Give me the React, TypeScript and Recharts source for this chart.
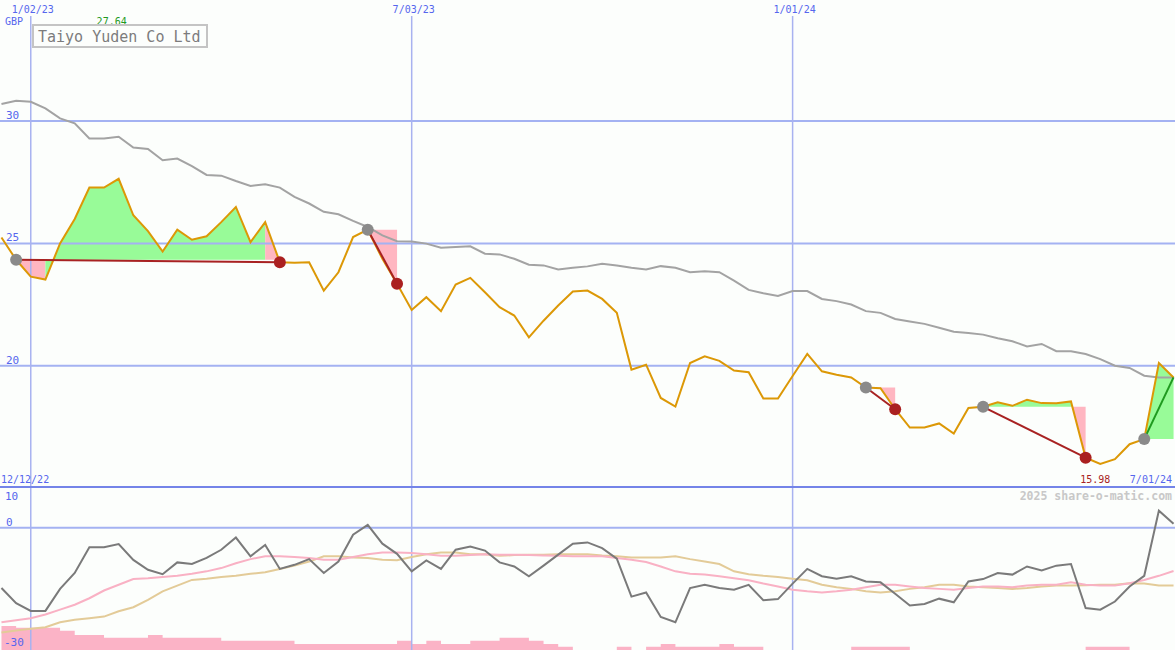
import React from 'react';
import { ComposedChart, Line, Area, XAxis, YAxis, ReferenceLine, ReferenceDot } from 'recharts';

const title = 'Taiyo Yuden Co Ltd';
const currency = 'GBP';
const credit = '2025 share-o-matic.com';
const startDate = '12/12/22';
const endDate = '7/01/24';
const dateTickIdx = [2, 28, 54];
const dateTickLabels = ['1/02/23', '7/03/23', '1/01/24'];
const priceTicks = [30, 25, 20];
const oscTicks = [10, 0, -30];

const price = [
  25.24, 24.33, 23.64, 23.52, 25.0, 26.0, 27.28, 27.28, 27.64, 26.15,
  25.5, 24.67, 25.56, 25.15, 25.29, 25.87, 26.49, 25.05, 25.87, 24.23,
  24.21, 24.23, 23.07, 23.82, 25.26, 25.56, 24.37, 23.35, 22.28, 22.8,
  22.23, 23.32, 23.59, 23.0, 22.39, 22.05, 21.16, 21.84, 22.46, 23.03,
  23.07, 22.73, 22.16, 19.84, 20.04, 18.68, 18.33, 20.11, 20.38, 20.2,
  19.8, 19.73, 18.66, 18.66, 19.58, 20.48, 19.77, 19.63, 19.52, 19.11,
  19.08, 18.22, 17.47, 17.47, 17.64, 17.23, 18.27, 18.32, 18.5, 18.36,
  18.61, 18.47, 18.46, 18.54, 16.24, 15.98, 16.18, 16.79, 17.0, 20.11,
  19.52,
];

const ma = [
  30.7, 30.83, 30.79, 30.52, 30.11, 29.91, 29.29, 29.29, 29.36, 28.92,
  28.86, 28.4, 28.47, 28.16, 27.8, 27.77, 27.55, 27.35, 27.42, 27.28,
  26.9, 26.63, 26.29, 26.19, 25.92, 25.67, 25.33, 25.09, 25.08, 24.99,
  24.82, 24.85, 24.88, 24.58, 24.55, 24.37, 24.13, 24.1, 23.93, 24.0,
  24.06, 24.17, 24.1, 24.0, 23.93, 24.07, 24.0, 23.82, 23.86, 23.82,
  23.48, 23.1, 22.96, 22.85, 23.05, 23.05, 22.73, 22.64, 22.5, 22.23,
  22.16, 21.91, 21.81, 21.71, 21.55, 21.39, 21.34, 21.27, 21.12, 21.0,
  20.79, 20.89, 20.59, 20.59, 20.48, 20.27, 20.0, 19.91, 19.59, 19.52,
  19.52,
];

const osc = [
  -14.8, -18.5, -20.4, -20.4, -15.0, -11.1, -4.8, -4.8, -4.0, -7.9,
  -10.3, -11.4, -8.5, -8.9, -7.4, -5.4, -2.4, -7.0, -4.2, -10.1,
  -9.1, -7.7, -11.1, -8.3, -1.7, 0.7, -3.9, -6.4, -10.7, -8.0,
  -10.1, -5.4, -4.6, -5.6, -8.5, -9.5, -11.9, -9.3, -6.6, -3.9,
  -3.6, -5.0, -7.6, -16.9, -15.9, -21.9, -23.2, -14.8, -14.0, -14.8,
  -15.2, -14.0, -17.8, -17.5, -13.7, -10.1, -11.9, -12.5, -11.9, -13.2,
  -13.4, -16.2, -19.1, -18.7, -17.4, -18.3, -13.2, -12.6, -11.1, -11.5,
  -9.5, -10.5, -9.3, -8.9, -19.7, -20.1, -18.1, -14.4, -11.8, 4.2,
  1.0,
];

const sig = [
  -23.2, -22.7, -22.2, -21.3, -20.1, -18.9, -17.3, -15.4, -14.0, -12.6,
  -12.4, -12.1, -11.8, -11.3, -10.7, -9.9, -8.7, -7.7, -7.0, -7.0,
  -7.2, -7.4, -7.85, -7.85, -7.2, -6.5, -6.1, -6.1, -6.2, -6.5,
  -6.9, -6.9, -6.7, -6.5, -6.6, -6.6, -6.7, -6.8, -6.9, -7.0,
  -7.0, -7.0, -7.4, -7.85, -8.4, -9.5, -10.7, -11.3, -11.5, -11.9,
  -12.4, -12.9, -13.7, -14.4, -15.2, -15.6, -15.9, -15.6, -15.2, -14.6,
  -14.0, -14.0, -14.4, -14.8, -15.0, -15.2, -14.8, -14.4, -14.4, -14.6,
  -14.2, -14.0, -14.0, -13.4, -14.0, -14.2, -14.2, -13.6, -12.8, -11.8,
  -10.6,
];

const slow = [
  -25.7, -25.2, -24.8, -24.4, -23.2, -22.6, -22.2, -21.8, -20.5, -19.5,
  -17.7, -15.6, -14.2, -12.8, -12.5, -12.1, -11.8, -11.3, -10.9, -10.1,
  -9.3, -8.3, -7.0, -7.0, -7.3, -7.4, -7.85, -8.0, -7.2, -6.5,
  -6.1, -6.1, -6.5, -6.5, -6.9, -6.7, -6.6, -6.6, -6.5, -6.5,
  -6.5, -6.8, -7.0, -7.3, -7.3, -7.3, -7.0, -7.7, -8.3, -8.9,
  -10.7, -11.4, -11.8, -12.1, -12.5, -12.9, -14.0, -14.6, -15.0, -15.6,
  -15.9, -15.6, -15.0, -14.6, -14.0, -14.0, -14.4, -14.6, -14.8, -15.0,
  -14.8, -14.4, -14.2, -14.2, -14.1, -14.0, -14.0, -13.6, -13.7, -14.2,
  -14.2,
];

const vol = [
  7.9, 7.3, 7.3, 7.3, 6.3, 4.9, 4.9, 4.0, 4.0, 4.0,
  4.9, 4.0, 4.0, 4.0, 4.0, 3.05, 3.05, 3.05, 3.05, 3.05,
  2.0, 2.0, 2.0, 2.0, 2.0, 2.0, 2.0, 3.05, 2.0, 3.05,
  2.0, 2.0, 3.05, 3.05, 4.0, 4.0, 3.05, 2.0, 1.1, 0,
  0, 0, 1.1, 0, 1.1, 2.0, 1.1, 1.1, 1.1, 2.0,
  1.1, 1.1, 0, 0, 0, 0, 0, 0, 1.1, 1.1,
  1.1, 1.1, 0, 0, 0, 0, 0, 0, 0, 0,
  0, 0, 0, 0, 1.1, 1.1, 1.1, 0, 0, 0,
  0,
];

const tradeEntry = [1, 25, 59, 67, 78];
const tradeExit = [19, 27, 61, 74, 80];
const tradeOpen = [false, false, false, false, true];

const BG = '#fcfefc';
const GRID = '#a4b2f2';
const GRID_V = '#a8b2f0';
const SEP = '#7484e8';
const TXT = '#5566ee';
const MONO = '"DejaVu Sans Mono", "Liberation Mono", monospace';
const UP_FILL = '#98fb98';
const DOWN_FILL = '#ffb6c1';
const LOSS = '#a82222';
const WIN = '#1f9a1f';

const rows: any[] = price.map((p, i) => ({
  i, price: p, ma: ma[i], osc: osc[i], sig: sig[i], slow: slow[i], vol: vol[i],
}));

const fillRuns: { key: string; color: string }[] = [];
const pushRun = (s: number, e: number, up: boolean, ep: number) => {
  const key = 'f' + fillRuns.length;
  for (let k = s; k <= e; k++) rows[k][key] = [ep, price[k]];
  fillRuns.push({ key, color: up ? UP_FILL : DOWN_FILL });
};
tradeEntry.forEach((e, t) => {
  const x = tradeExit[t];
  const ep = price[e];
  let runStart = e;
  let runUp: boolean | null = null;
  for (let j = e; j < x; j++) {
    const up = price[j + 1] >= ep;
    if (runUp === null) { runUp = up; runStart = j; }
    else if (up !== runUp) { pushRun(runStart, j, runUp, ep); runUp = up; runStart = j; }
  }
  if (runUp !== null) pushRun(runStart, x, runUp, ep);
});

const tradeKeys = tradeEntry.map((e, t) => {
  const key = 't' + t;
  rows[e][key] = price[e];
  rows[tradeExit[t]][key] = price[tradeExit[t]];
  return key;
});

let maxIdx = 0;
let minIdx = 0;
price.forEach((p, i) => { if (p > price[maxIdx]) maxIdx = i; if (p < price[minIdx]) minIdx = i; });

const makeDot = (t: number) => (props: any) => {
  const { cx, cy, payload, index } = props;
  const k = `d${t}-${index}`;
  if (cx == null || cy == null || props.value == null) return <g key={k} />;
  const isEntry = payload.i === tradeEntry[t];
  if (!isEntry && tradeOpen[t]) return <g key={k} />;
  return <circle key={k} cx={cx} cy={cy} r={6} fill={isEntry ? '#8a8a8a' : '#aa2020'} stroke="none" />;
};

const LineLabel = (props: any) => {
  const { viewBox, txt, dx = 0, dy = 0, anchor = 'start', size = 11, color = TXT, yAbs } = props;
  if (!viewBox) return null;
  return (
    <text x={viewBox.x + dx} y={yAbs != null ? yAbs : viewBox.y + dy} textAnchor={anchor}
      fontSize={size} fill={color} fontFamily={MONO}>{txt}</text>
  );
};

const X_DOMAIN: [number, number] = [-0.1, 80.1];
const P_DOMAIN: [number, number] = [15, 34.95];
const V_TOP = 34.3;

export default function App() {
  return (
    <div style={{ position: 'absolute', left: 0, top: 0, width: 1175, height: 650, background: BG, overflow: 'hidden' }}>
      <div style={{ position: 'absolute', left: 0, top: 0 }}>
        <ComposedChart width={1175} height={488} data={rows} margin={{ top: 0, right: 0, bottom: 0, left: 0 }}>
          <XAxis hide type="number" dataKey="i" domain={X_DOMAIN} allowDataOverflow />
          <YAxis hide domain={P_DOMAIN} allowDataOverflow />
          {priceTicks.map((v) => (
            <ReferenceLine key={'py' + v} y={v} stroke={GRID} strokeWidth={2}
              label={<LineLabel txt={String(v)} dx={6} dy={-2} />} />
          ))}
          {dateTickIdx.map((d, k) => (
            <ReferenceLine key={'px' + d} stroke={GRID_V} strokeWidth={1.5}
              segment={[{ x: d, y: V_TOP }, { x: d, y: P_DOMAIN[0] }]}
              label={<LineLabel txt={dateTickLabels[k]} dx={2} yAbs={13} anchor="middle" size={10} />} />
          ))}
          {fillRuns.map((r) => (
            <Area key={r.key} dataKey={r.key} type="linear" fill={r.color} fillOpacity={1}
              stroke="none" connectNulls={false} isAnimationActive={false} dot={false} activeDot={false} />
          ))}
          <Line dataKey="ma" type="linear" stroke="#a3a3a3" strokeWidth={2} dot={false} activeDot={false} isAnimationActive={false} />
          <Line dataKey="price" type="linear" stroke="#dc9806" strokeWidth={2} dot={false} activeDot={false} isAnimationActive={false} />
          {tradeKeys.map((key, t) => (
            <Line key={key} dataKey={key} type="linear" connectNulls
              stroke={price[tradeExit[t]] > price[tradeEntry[t]] ? WIN : LOSS} strokeWidth={2}
              dot={makeDot(t)} activeDot={false} isAnimationActive={false} />
          ))}
          <ReferenceDot x={maxIdx} y={price[maxIdx]} r={0} fill="none" stroke="none"
            label={<LineLabel txt={price[maxIdx].toFixed(2)} dx={-7} yAbs={25} anchor="middle" size={10} color="#1f9a1f" />} />
          <ReferenceDot x={minIdx} y={price[minIdx]} r={0} fill="none" stroke="none"
            label={<LineLabel txt={price[minIdx].toFixed(2)} dx={-5} yAbs={483} anchor="middle" size={10} color="#a82222" />} />
        </ComposedChart>
      </div>
      <div style={{ position: 'absolute', left: 0, top: 485 }}>
        <ComposedChart width={1175} height={165} data={rows} margin={{ top: 2, right: 0, bottom: 0, left: 0 }}>
          <XAxis hide type="number" dataKey="i" domain={X_DOMAIN} allowDataOverflow />
          <YAxis hide yAxisId="o" domain={[oscTicks[2], oscTicks[0]]} allowDataOverflow />
          <YAxis hide yAxisId="v" domain={[0, 53.4]} allowDataOverflow />
          {dateTickIdx.map((d) => (
            <ReferenceLine key={'ox' + d} yAxisId="o" x={d} stroke={GRID_V} strokeWidth={1.5} />
          ))}
          <ReferenceLine yAxisId="o" y={oscTicks[1]} stroke={GRID} strokeWidth={2}
            label={<LineLabel txt={String(oscTicks[1])} dx={6} dy={-2} />} />
          <Area yAxisId="v" dataKey="vol" type="stepAfter" fill="#fbb3c6" fillOpacity={1} stroke="none"
            isAnimationActive={false} dot={false} activeDot={false} />
          <Line yAxisId="o" dataKey="slow" type="linear" stroke="#e3cb98" strokeWidth={2} dot={false} activeDot={false} isAnimationActive={false} />
          <Line yAxisId="o" dataKey="sig" type="linear" stroke="#f9b1c4" strokeWidth={2} dot={false} activeDot={false} isAnimationActive={false} />
          <Line yAxisId="o" dataKey="osc" type="linear" stroke="#7a7a7a" strokeWidth={2} dot={false} activeDot={false} isAnimationActive={false} />
          <ReferenceLine yAxisId="o" y={oscTicks[0]} stroke={SEP} strokeWidth={2}
            label={<LineLabel txt={String(oscTicks[0])} dx={5} dy={13} />} />
          <ReferenceLine yAxisId="o" y={oscTicks[2]} stroke="none"
            label={<LineLabel txt={String(oscTicks[2])} dx={4} dy={-4} />} />
        </ComposedChart>
      </div>
      <svg width={1175} height={650} style={{ position: 'absolute', left: 0, top: 0, pointerEvents: 'none' }}>
        <text x={5} y={25} fontSize={10} fill={TXT} fontFamily={MONO}>{currency}</text>
        <rect x={33} y={25} width={174} height={22} fill={BG} stroke="#c4c4c4" strokeWidth={2} />
        <text x={38} y={41.5} fontSize={15} fill="#7c7c7c" fontFamily={MONO}>{title}</text>
        <text x={1} y={483} fontSize={10} fill={TXT} fontFamily={MONO}>{startDate}</text>
        <text x={1172} y={483} fontSize={10} fill={TXT} fontFamily={MONO} textAnchor="end">{endDate}</text>
        <text x={1172} y={500} fontSize={11.5} fontWeight="bold" fill="#c8c8c8" fontFamily={MONO} textAnchor="end">{credit}</text>
      </svg>
    </div>
  );
}
